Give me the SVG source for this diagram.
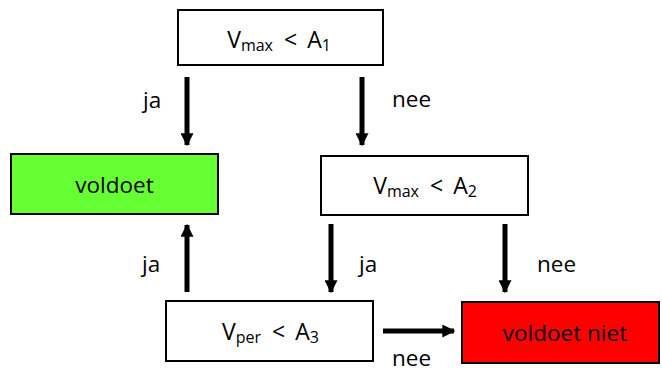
<svg xmlns="http://www.w3.org/2000/svg" width="662" height="372" viewBox="0 0 662 372">
<style>
.box{stroke:#000;stroke-width:2}
.t{font-family:"Open Sans","Noto Sans",sans-serif;font-size:22.5px;fill:#000}
.m{font-size:23px}
.s{font-size:16px}
.c{stroke:#000;stroke-width:5;fill:none}
</style>
<defs>
<marker id="ah" viewBox="0 0 10 10" refX="9" refY="5" markerWidth="2.6" markerHeight="2.6" orient="auto" markerUnits="strokeWidth">
<path d="M0,0 L10,5 L0,10 Z" fill="#000"/>
</marker>
</defs>
<rect width="662" height="372" fill="#fff"/>
<g id="n1"><rect class="box" x="178" y="10" width="205" height="55" fill="#fff"/>
<text class="t m" x="279" y="48" text-anchor="middle">V<tspan class="s" dy="3">max</tspan><tspan dy="-3" dx="11">&lt;</tspan><tspan dx="10">A</tspan><tspan class="s" dy="3">1</tspan></text></g>
<g id="n2"><rect class="box" x="11" y="154" width="207" height="60" fill="#66ff33"/>
<text class="t" x="114.5" y="193" text-anchor="middle">voldoet</text></g>
<g id="n3"><rect class="box" x="321" y="156" width="207" height="59" fill="#fff"/>
<text class="t m" x="425" y="194" text-anchor="middle">V<tspan class="s" dy="3">max</tspan><tspan dy="-3" dx="11">&lt;</tspan><tspan dx="10">A</tspan><tspan class="s" dy="3">2</tspan></text></g>
<g id="n4"><rect class="box" x="166" y="301" width="207" height="60" fill="#fff"/>
<text class="t m" x="270.5" y="340" text-anchor="middle">V<tspan class="s" dy="3">per</tspan><tspan dy="-3" dx="11">&lt;</tspan><tspan dx="10">A</tspan><tspan class="s" dy="3">3</tspan></text></g>
<g id="n5"><rect class="box" x="462" y="302" width="197" height="61" fill="#ff0000"/>
<text class="t" x="565" y="341" text-anchor="middle">voldoet niet</text></g>
<g id="connectors">
<line class="c" x1="187" y1="77" x2="187" y2="145" marker-end="url(#ah)"/>
<line class="c" x1="362" y1="77" x2="362" y2="145" marker-end="url(#ah)"/>
<line class="c" x1="187" y1="292" x2="187" y2="225" marker-end="url(#ah)"/>
<line class="c" x1="331" y1="224" x2="331" y2="292" marker-end="url(#ah)"/>
<line class="c" x1="505" y1="224" x2="505" y2="292" marker-end="url(#ah)"/>
<line class="c" x1="383" y1="331" x2="454" y2="331" marker-end="url(#ah)"/>
<text class="t" x="143" y="108">ja</text>
<text class="t" x="392" y="107">nee</text>
<text class="t" x="142" y="272">ja</text>
<text class="t" x="359" y="272">ja</text>
<text class="t" x="537" y="272">nee</text>
<text class="t" x="392" y="366">nee</text>
</g>
</svg>
